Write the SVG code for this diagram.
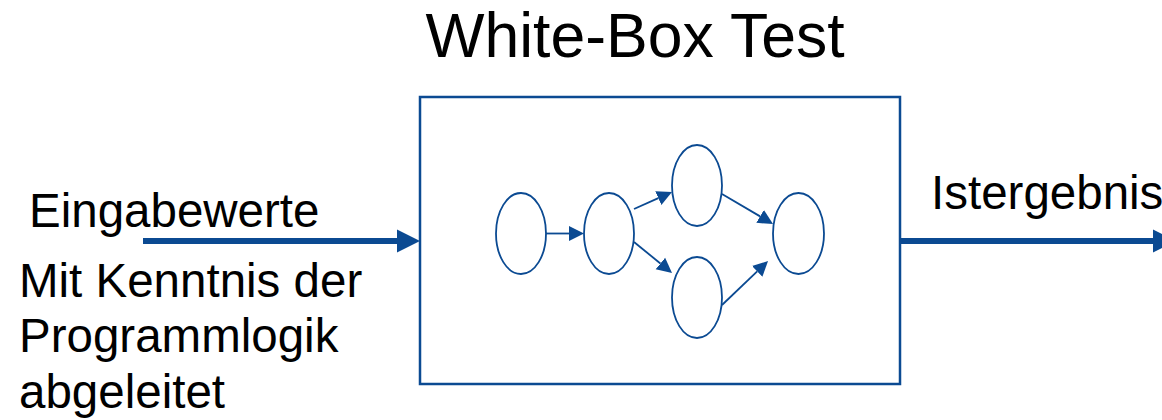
<svg xmlns="http://www.w3.org/2000/svg" width="1162" height="420" viewBox="0 0 1162 420">
<style>
text{font-family:"Liberation Sans",Arial,sans-serif;fill:#000}
.lbl{font-size:47.5px}
.title{font-size:62.5px}
.node{fill:#fff;stroke:#0B4A92;stroke-width:1.8}
.big{stroke:#0B4A92;stroke-width:6;fill:none}
.small{stroke:#0B4A92;stroke-width:1.8;fill:none}
.box{fill:#fff;stroke:#0B4A92;stroke-width:2.5}
</style>
<defs>
<marker id="bigHead" markerUnits="userSpaceOnUse" markerWidth="23" markerHeight="24" viewBox="0 0 23 24" refX="0" refY="12" orient="auto">
<path d="M0,0.5 L23,12 L0,23.5 z" fill="#0B4A92"/>
</marker>
<marker id="smallHead" markerUnits="userSpaceOnUse" markerWidth="15" markerHeight="16" viewBox="0 0 15 16" refX="0" refY="8" orient="auto">
<path d="M0,0.5 L15,8 L0,15.5 z" fill="#0B4A92"/>
</marker>
</defs>
<rect width="1162" height="420" fill="#fff"/>
<text class="title" x="635" y="57" text-anchor="middle">White-Box Test</text>
<g id="box"><rect class="box" x="420" y="97" width="480" height="287"/></g>
<g id="n1"><ellipse class="node" cx="521" cy="233.5" rx="25" ry="40.5"/></g>
<g id="n2"><ellipse class="node" cx="609" cy="233.5" rx="25" ry="40.5"/></g>
<g id="n3"><ellipse class="node" cx="697" cy="185.5" rx="25" ry="40.5"/></g>
<g id="n4"><ellipse class="node" cx="697" cy="297.5" rx="25" ry="40.5"/></g>
<g id="n5"><ellipse class="node" cx="798.5" cy="233.5" rx="25.5" ry="40.5"/></g>
<g id="connectors">
<line class="big" x1="143" y1="241" x2="397" y2="241" marker-end="url(#bigHead)"/>
<line class="big" x1="900" y1="241" x2="1153" y2="241" marker-end="url(#bigHead)"/>
<line class="small" x1="546" y1="233.5" x2="569" y2="233.5" marker-end="url(#smallHead)"/>
<line class="small" x1="634" y1="209" x2="658.3" y2="198.1" marker-end="url(#smallHead)"/>
<line class="small" x1="634" y1="242" x2="660.4" y2="263.5" marker-end="url(#smallHead)"/>
<line class="small" x1="722" y1="194" x2="760.1" y2="216.4" marker-end="url(#smallHead)"/>
<line class="small" x1="722" y1="305" x2="757.2" y2="271.4" marker-end="url(#smallHead)"/>
</g>
<g id="labels">
<text class="lbl" x="29" y="227">Eingabewerte</text>
<text class="lbl" x="931" y="209">Istergebnis</text>
<text class="lbl" x="19" y="297">Mit Kenntnis der</text>
<text class="lbl" x="19" y="352">Programmlogik</text>
<text class="lbl" x="19" y="408">abgeleitet</text>
</g>
</svg>
